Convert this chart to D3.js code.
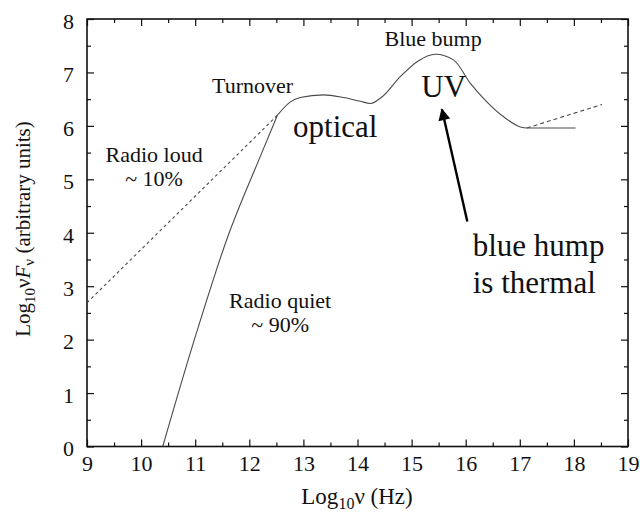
<!DOCTYPE html>
<html>
<head>
<meta charset="utf-8">
<script src="https://cdn.jsdelivr.net/npm/d3@7"></script>
<style>
  html, body { margin: 0; padding: 0; background: #fff; }
  svg { display: block; font-family: "Liberation Serif", "Times New Roman", serif; }
</style>
</head>
<body>
<svg id="chart" width="640" height="513"></svg>
<script>
// Axis ticks
const xTicks = [9, 10, 11, 12, 13, 14, 15, 16, 17, 18, 19];
const yTicks = [0, 1, 2, 3, 4, 5, 6, 7, 8];

// Radio-quiet rise: log frequency (Hz) and log nu F_nu
const risingNu   = [10.40, 11.00, 11.60, 12.20, 12.52];
const risingFlux = [0.00, 2.05, 3.92, 5.42, 6.20];

// Turnover, optical plateau, blue bump and X-ray flat tail
const bumpNu   = [12.52, 12.76, 12.94, 13.37, 13.74, 14.05, 14.24, 14.45, 14.79, 15.13, 15.44, 15.78, 16.09, 16.39, 16.70, 17.01, 17.13, 17.50, 18.03];
const bumpFlux = [6.20, 6.45, 6.53, 6.58, 6.53, 6.46, 6.42, 6.54, 6.92, 7.22, 7.34, 7.23, 6.79, 6.45, 6.17, 5.98, 5.96, 5.96, 5.96];

// Radio-loud power law (dashed)
const loudNu   = [9.00, 12.52];
const loudFlux = [2.69, 6.20];

// Rising X-ray branch (dashed)
const xrayNu   = [17.13, 18.52];
const xrayFlux = [5.96, 6.40];

// Annotations: text, position in data units, size, anchor
const labelText   = ["Turnover", "Radio loud", "~ 10%", "Blue bump", "optical", "UV", "blue hump", "is thermal", "Radio quiet", "~ 90%"];
const labelNu     = [11.31, 10.24, 10.24, 14.50, 12.81, 15.18, 16.13, 16.13, 12.57, 12.57];
const labelFlux   = [6.61, 5.32, 4.87, 7.50, 5.79, 6.54, 3.56, 2.87, 2.60, 2.14];
const labelSize   = [22, 22, 22, 22, 31, 31, 31, 31, 22, 22];
const labelAnchor = ["start", "middle", "middle", "start", "start", "start", "start", "start", "middle", "middle"];

// Arrow from the "blue hump" note up to the UV label
const arrowNu   = [16.03, 15.56];
const arrowFlux = [4.21, 6.31];

const svg = d3.select("#chart");
const W = 640, H = 513;
const margin = { left: 87, right: 12, top: 19, bottom: 66.5 };

const x = d3.scaleLinear().domain([9, 19]).range([margin.left, W - margin.right]);
const y = d3.scaleLinear().domain([0, 8]).range([H - margin.bottom, margin.top]);

const x0 = x.range()[0], x1 = x.range()[1];
const y0 = y.range()[0], y1 = y.range()[1];

const minorX = d3.range(9.5, 19, 1);
const minorY = d3.range(0.5, 8, 1);

// Frame axes with inward ticks
function styleAxis(g) {
  g.select(".domain").remove();
  g.selectAll(".tick line").attr("stroke", "#111").attr("stroke-width", 1.2);
}

svg.append("g").attr("transform", `translate(0,${y0})`)
  .call(d3.axisBottom(x).tickValues(xTicks).tickSize(-7).tickPadding(9).tickFormat(d3.format("d")))
  .call(styleAxis)
  .call(g => g.selectAll("text").attr("font-size", 22).attr("font-family", "Liberation Serif").attr("fill", "#111"));

svg.append("g").attr("transform", `translate(0,${y0})`)
  .call(d3.axisBottom(x).tickValues(minorX).tickSize(-4).tickFormat(""))
  .call(styleAxis);

svg.append("g").attr("transform", `translate(0,${y1})`)
  .call(d3.axisTop(x).tickValues(xTicks).tickSize(-7).tickFormat(""))
  .call(styleAxis);
svg.append("g").attr("transform", `translate(0,${y1})`)
  .call(d3.axisTop(x).tickValues(minorX).tickSize(-4).tickFormat(""))
  .call(styleAxis);

svg.append("g").attr("transform", `translate(${x0},0)`)
  .call(d3.axisLeft(y).tickValues(yTicks).tickSize(-7).tickPadding(13).tickFormat(d3.format("d")))
  .call(styleAxis)
  .call(g => g.selectAll("text").attr("font-size", 22).attr("font-family", "Liberation Serif").attr("fill", "#111").attr("dy", "0.42em"));
svg.append("g").attr("transform", `translate(${x0},0)`)
  .call(d3.axisLeft(y).tickValues(minorY).tickSize(-4).tickFormat(""))
  .call(styleAxis);

svg.append("g").attr("transform", `translate(${x1},0)`)
  .call(d3.axisRight(y).tickValues(yTicks).tickSize(-7).tickFormat(""))
  .call(styleAxis);
svg.append("g").attr("transform", `translate(${x1},0)`)
  .call(d3.axisRight(y).tickValues(minorY).tickSize(-4).tickFormat(""))
  .call(styleAxis);

svg.append("rect")
  .attr("x", x0).attr("y", y1).attr("width", x1 - x0).attr("height", y0 - y1)
  .attr("fill", "none").attr("stroke", "#111").attr("stroke-width", 1.6);

// Spectral energy distribution curves
const pts = (a, b) => a.map((v, i) => [v, b[i]]);
const line = d3.line().x(d => x(d[0])).y(d => y(d[1])).curve(d3.curveMonotoneX);
const straight = d3.line().x(d => x(d[0])).y(d => y(d[1]));

const curves = svg.append("g").attr("fill", "none").attr("stroke", "#4a4a4a").attr("stroke-width", 1.1);
curves.append("path").attr("d", line(pts(risingNu, risingFlux)));
curves.append("path").attr("d", line(pts(bumpNu, bumpFlux)));
curves.append("path").attr("d", straight(pts(loudNu, loudFlux))).attr("stroke-dasharray", "3,3");
curves.append("path").attr("d", straight(pts(xrayNu, xrayFlux))).attr("stroke-dasharray", "4,3");

// Text annotations
svg.append("g").selectAll("text")
  .data(labelText.map((t, i) => ({ t, nu: labelNu[i], f: labelFlux[i], s: labelSize[i], a: labelAnchor[i] })))
  .join("text")
  .attr("x", d => x(d.nu)).attr("y", d => y(d.f))
  .attr("font-size", d => d.s).attr("text-anchor", d => d.a)
  .attr("fill", "#111")
  .text(d => d.t);

// Arrow
const defs = svg.append("defs");
defs.append("marker")
  .attr("id", "head").attr("viewBox", "0 0 10 10").attr("refX", 9).attr("refY", 5)
  .attr("markerWidth", 6).attr("markerHeight", 5).attr("markerUnits", "strokeWidth")
  .attr("orient", "auto")
  .append("path").attr("d", "M0,0 L10,5 L0,10 Z").attr("fill", "#000");

svg.append("line")
  .attr("x1", x(arrowNu[0])).attr("y1", y(arrowFlux[0]))
  .attr("x2", x(arrowNu[1])).attr("y2", y(arrowFlux[1]))
  .attr("stroke", "#000").attr("stroke-width", 2.4)
  .attr("marker-end", "url(#head)");

// Axis titles
const xt = svg.append("text")
  .attr("x", 357).attr("y", 504)
  .attr("text-anchor", "middle").attr("font-size", 23).attr("fill", "#111");
xt.append("tspan").text("Log");
xt.append("tspan").attr("font-size", 16).attr("dy", 5).text("10");
xt.append("tspan").attr("dy", -5).text("ν (Hz)");

const yt = svg.append("text")
  .attr("transform", `translate(30,229) rotate(-90)`)
  .attr("text-anchor", "middle").attr("font-size", 21).attr("fill", "#111");
yt.append("tspan").text("Log");
yt.append("tspan").attr("font-size", 15).attr("dy", 5).text("10");
yt.append("tspan").attr("dy", -5).text("ν");
yt.append("tspan").attr("font-style", "italic").text("F");
yt.append("tspan").attr("font-size", 15).attr("dy", 4).text("ν");
yt.append("tspan").attr("dy", -4).text(" (arbitrary units)");
</script>
</body>
</html>
